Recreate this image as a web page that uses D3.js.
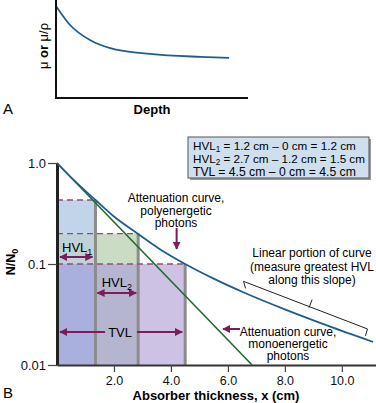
<!DOCTYPE html>
<html>
<head>
<meta charset="utf-8">
<script src="https://cdn.jsdelivr.net/npm/d3@7"></script>
<style>
  body { margin: 0; background: #fff; }
  svg { font-family: "Liberation Sans", Arial, sans-serif; }
</style>
</head>
<body>
<script>
let w = 376;
let h = 403;

// panel A: mu vs depth (arbitrary units)
let depthX = [0, 0.82, 2.0, 3.16, 5.5, 8.4, 10.1];
let muY = [0.94, 0.745, 0.59, 0.51, 0.45, 0.42, 0.41];

// panel B: attenuation curves
let polyX = [0, 0.5, 1.35, 2, 2.85, 3.6, 4.5, 5.5, 6.6, 8, 9.5, 11.1];
let polyY = [1, 0.716, 0.43, 0.295, 0.198, 0.141, 0.1, 0.0716, 0.0516, 0.0355, 0.0245, 0.0169];
let monoX = [0, 6.85];
let monoY = [1, 0.01];

// HVL1, HVL2, TVL thickness and their transmitted levels
let thickness = [1.35, 2.85, 4.5];
let levels = [0.43, 0.2, 0.1];

let xTicks = [2, 4, 6, 8, 10];
let xTickLabels = ["2.0", "4.0", "6.0", "8.0", "10.0"];
let yTicks = [1, 0.1, 0.01];
let yTickLabels = ["1.0", "0.1", "0.01"];

let boxLines = [
  ["HVL", "1", " = 1.2 cm \u2013 0 cm = 1.2 cm"],
  ["HVL", "2", " = 2.7 cm \u2013 1.2 cm = 1.5 cm"],
  ["TVL", "", " = 4.5 cm \u2013 0 cm = 4.5 cm"]
];

let svg = d3.select("body")
  .append("svg")
  .attr("width", w)
  .attr("height", h);

let plum = "#7b1d5c";

svg.append("defs").append("marker")
  .attr("id", "ah")
  .attr("viewBox", "0 0 10 10")
  .attr("refX", 9).attr("refY", 5)
  .attr("markerWidth", 4).attr("markerHeight", 4)
  .attr("markerUnits", "strokeWidth")
  .attr("orient", "auto-start-reverse")
  .append("path")
  .attr("d", "M0,0 L10,5 L0,10 Z")
  .attr("fill", plum);

// ---------- panel A ----------
let ax = d3.scaleLinear().domain([0, 11.2]).range([56, 248]);
let ay = d3.scaleLinear().domain([0, 1]).range([98, 0]);

svg.append("path")
  .datum(depthX.map((d, i) => [d, muY[i]]))
  .attr("fill", "none")
  .attr("stroke", "#1f5f8f")
  .attr("stroke-width", 1.8)
  .attr("d", d3.line().x(d => ax(d[0])).y(d => ay(d[1])).curve(d3.curveMonotoneX));

svg.append("path")
  .attr("d", "M" + ax(0) + "," + ay(1.02) + "V" + ay(0) + "H" + ax(11.2))
  .attr("fill", "none")
  .attr("stroke", "#111")
  .attr("stroke-width", 2);

svg.append("text")
  .attr("x", 152).attr("y", 114)
  .attr("text-anchor", "middle")
  .attr("font-size", 13).attr("font-weight", "bold")
  .text("Depth");

let muLab = svg.append("text")
  .attr("transform", "translate(48,46) rotate(-90)")
  .attr("text-anchor", "middle")
  .attr("font-size", 13);
muLab.append("tspan").text("\u03bc ");
muLab.append("tspan").attr("font-weight", "bold").text("or");
muLab.append("tspan").text(" \u03bc/\u03c1");

svg.append("text").attr("x", 3).attr("y", 114).attr("font-size", 15).text("A");

// ---------- panel B ----------
let x = d3.scaleLinear().domain([0, 11.2]).range([57, 376]);
let y = d3.scaleLog().domain([0.01, 1]).range([365, 163]);

// shaded HVL / TVL cells
let cellColors = [
  ["#c1d4ea"],
  ["#bed3d5", "#cbdcc5"],
  ["#aab0dd", "#b6b5d0", "#cdc2e4"]
];
let rowBounds = [levels[0], levels[1], levels[2], 0.01];
let colBounds = [0].concat(thickness);
for (let r = 0; r < 3; r++) {
  for (let c = 0; c <= r; c++) {
    svg.append("rect")
      .attr("x", x(colBounds[c]))
      .attr("y", y(rowBounds[r]))
      .attr("width", x(colBounds[c + 1]) - x(colBounds[c]))
      .attr("height", y(rowBounds[r + 1]) - y(rowBounds[r]))
      .attr("fill", cellColors[r][c]);
  }
}

// grey dividers
thickness.forEach((t, i) => {
  svg.append("line")
    .attr("x1", x(t)).attr("x2", x(t))
    .attr("y1", y(levels[i])).attr("y2", y(0.01))
    .attr("stroke", "#8c8c8c")
    .attr("stroke-width", 3);
});

// dashed level lines
levels.forEach((l, i) => {
  svg.append("line")
    .attr("x1", x(0)).attr("x2", x(thickness[i]))
    .attr("y1", y(l)).attr("y2", y(l))
    .attr("stroke", "#9a4a78")
    .attr("stroke-width", 1.3)
    .attr("stroke-dasharray", "6,4");
});

// axes
let yAxis = d3.axisLeft(y)
  .tickValues(yTicks)
  .tickFormat((d, i) => yTickLabels[i])
  .tickSize(9)
  .tickSizeOuter(0);
let gy = svg.append("g")
  .attr("transform", "translate(" + x(0) + ",0)")
  .call(yAxis);
gy.select(".domain").attr("stroke", "#222").attr("stroke-width", 3);
gy.selectAll(".tick line").attr("stroke", "#444").attr("stroke-width", 1.2);
gy.selectAll(".tick text")
  .attr("font-size", 13).attr("font-family", "Liberation Sans, Arial, sans-serif")
  .attr("fill", "#111").attr("x", -11);

let xAxis = d3.axisBottom(x)
  .tickValues(xTicks)
  .tickFormat((d, i) => xTickLabels[i])
  .tickSize(7)
  .tickSizeOuter(0);
let gx = svg.append("g")
  .attr("transform", "translate(0," + y(0.01) + ")")
  .call(xAxis);
gx.select(".domain").attr("stroke", "#333").attr("stroke-width", 1.8);
gx.selectAll(".tick line").attr("stroke", "#444").attr("stroke-width", 1.2);
gx.selectAll(".tick text")
  .attr("font-size", 12.5).attr("font-family", "Liberation Sans, Arial, sans-serif")
  .attr("fill", "#111").attr("y", 11);

// curves
svg.append("path")
  .datum(monoX.map((d, i) => [d, monoY[i]]))
  .attr("fill", "none")
  .attr("stroke", "#1e6b2c")
  .attr("stroke-width", 1.6)
  .attr("d", d3.line().x(d => x(d[0])).y(d => y(d[1])));

svg.append("path")
  .datum(polyX.map((d, i) => [d, polyY[i]]))
  .attr("fill", "none")
  .attr("stroke", "#1f5f8f")
  .attr("stroke-width", 1.8)
  .attr("d", d3.line().x(d => x(d[0])).y(d => y(d[1])).curve(d3.curveMonotoneX));

// HVL / TVL arrows and labels
function arrow(x1, y1, x2, y2, both) {
  let l = svg.append("line")
    .attr("x1", x1).attr("x2", x2).attr("y1", y1).attr("y2", y2)
    .attr("stroke", plum).attr("stroke-width", 2)
    .attr("marker-end", "url(#ah)");
  if (both) l.attr("marker-start", "url(#ah)");
}
function subLabel(cx, by, main, sub) {
  let t = svg.append("text")
    .attr("x", cx).attr("y", by)
    .attr("text-anchor", "middle")
    .attr("font-size", 13);
  t.append("tspan").text(main);
  t.append("tspan").attr("font-size", 9).attr("dy", 3).text(sub);
}

let yH1 = y(levels[2]) - 7;
arrow(x(0) + 3, yH1, x(thickness[0]) - 3, yH1, true);
subLabel((x(0) + x(thickness[0])) / 2 + 1, yH1 - 5, "HVL", "1");

let yH2 = y(levels[2]) + 29;
arrow(x(thickness[0]) + 2, yH2, x(thickness[1]) - 2, yH2, true);
subLabel((x(thickness[0]) + x(thickness[1])) / 2, yH2 - 6, "HVL", "2");

let yT = y(levels[2]) + 68;
let tMid = (x(0) + x(thickness[2])) / 2 - 1;
arrow(tMid - 15, yT, x(0) + 3, yT);
arrow(tMid + 17, yT, x(thickness[2]) - 3, yT);
svg.append("text")
  .attr("x", tMid).attr("y", yT + 5)
  .attr("text-anchor", "middle")
  .attr("font-size", 13)
  .text("TVL");

function block(lines, cx, by, lh, fs) {
  lines.forEach((s, i) => {
    svg.append("text")
      .attr("x", cx).attr("y", by + i * lh)
      .attr("text-anchor", "middle")
      .attr("font-size", fs)
      .text(s);
  });
}

// polyenergetic label
block(["Attenuation curve,", "polyenergetic", "photons"], 176, 202, 12.5, 12);
arrow(x(4.2), 228, x(4.2), 249);

// monoenergetic label
block(["Attenuation curve,", "monoenergetic", "photons"], 288, 336, 12, 12);
arrow(240, 329, 223, 329);

// bracket for the linear part
let bx0 = 6.55, bx1 = 10.9, bxm = 8.85;
function polyAt(v) {
  let i = d3.bisectRight(polyX, v) - 1;
  let t = (v - polyX[i]) / (polyX[i + 1] - polyX[i]);
  return Math.exp(Math.log(polyY[i]) * (1 - t) + Math.log(polyY[i + 1]) * t);
}
let off = 11;
let p0 = [x(bx0), y(polyAt(bx0)) - off];
let p1 = [x(bx1), y(polyAt(bx1)) - off];
let pm = [x(bxm), y(polyAt(bxm)) - off];
svg.append("path")
  .attr("d", "M" + (p0[0] + 2) + "," + (p0[1] + 7) + "L" + p0[0] + "," + p0[1] +
    "L" + p1[0] + "," + p1[1] + "L" + (p1[0] - 2) + "," + (p1[1] + 7) +
    "M" + pm[0] + "," + pm[1] + "L" + (pm[0] + 3) + "," + (pm[1] - 8))
  .attr("fill", "none")
  .attr("stroke", "#222")
  .attr("stroke-width", 1);

block(["Linear portion of curve", "(measure greatest HVL", "along this slope)"], 312, 257, 13.5, 12);

// summary box
svg.append("rect")
  .attr("x", 190).attr("y", 139).attr("width", 181).attr("height", 41)
  .attr("fill", "#9a9a9a");
svg.append("rect")
  .attr("x", 188).attr("y", 137).attr("width", 181).attr("height", 41)
  .attr("fill", "#cfdfee")
  .attr("stroke", "#555").attr("stroke-width", 1);
boxLines.forEach((l, i) => {
  let t = svg.append("text")
    .attr("x", 193).attr("y", 150 + i * 12.8)
    .attr("font-size", 13);
  t.append("tspan").text(l[0]);
  if (l[1]) {
    t.append("tspan").attr("font-size", 9).attr("dy", 2).text(l[1]);
    t.append("tspan").attr("dy", -2).text(l[2]);
  } else {
    t.append("tspan").text(l[2]);
  }
  // fit to the width seen in the picture
  let target = i === 1 ? 172 : 163;
  let len = t.node().getComputedTextLength();
  let fs = 13 * target / len;
  t.attr("font-size", fs);
  t.selectAll("tspan").filter(function() { return this.getAttribute("font-size") === "9"; })
    .attr("font-size", fs * 0.7);
});

// axis titles
let nLab = svg.append("text")
  .attr("transform", "translate(15,262) rotate(-90)")
  .attr("text-anchor", "middle")
  .attr("font-size", 12.5).attr("font-weight", "bold");
nLab.append("tspan").text("N/N");
nLab.append("tspan").attr("font-size", 9).attr("dy", 3).text("0");

svg.append("text")
  .attr("x", 216).attr("y", 400)
  .attr("text-anchor", "middle")
  .attr("font-size", 13).attr("font-weight", "bold")
  .text("Absorber thickness, x (cm)");

svg.append("text").attr("x", 3).attr("y", 398).attr("font-size", 15).text("B");
</script>
</body>
</html>
